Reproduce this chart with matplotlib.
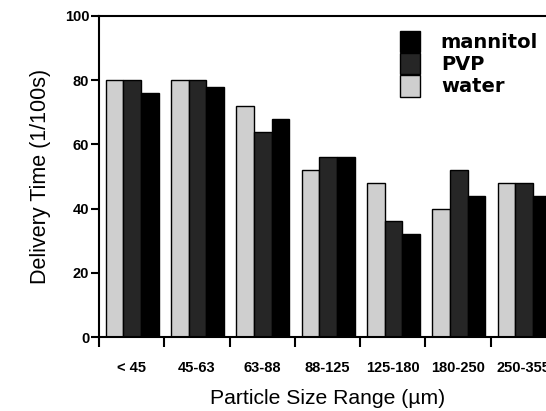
import numpy as np
import matplotlib.pyplot as plt

plt.rcParams["font.family"] = "Liberation Sans"

# data
categories = ["< 45", "45-63", "63-88", "88-125", "125-180", "180-250", "250-355"]
water = [80, 80, 72, 52, 48, 40, 48]
pvp = [80, 80, 64, 56, 36, 52, 48]
mannitol = [76, 78, 68, 56, 32, 44, 44]

fig = plt.figure(figsize=(5.46, 4.11), dpi=100)
# axes runs past the right edge, like the scanned original
ax = fig.add_axes([99 / 546, 1 - 337 / 411, 457 / 546, 321 / 411])

x = np.arange(len(categories))
w = 0.27
b_water = ax.bar(x - 0.26, water, w, color="#cfcfcf", edgecolor="black", lw=1.0)
b_pvp = ax.bar(x + 0.01, pvp, w, color="#262626", edgecolor="black", lw=1.0)
b_man = ax.bar(x + 0.28, mannitol, w, color="black", edgecolor="black", lw=1.0)

ax.set_xlim(-0.5, len(categories) - 0.5)
ax.set_ylim(0, 100)
ax.set_yticks([0, 20, 40, 60, 80, 100])

# tick marks at the group boundaries, labels at the group centres
ax.set_xticks(np.arange(-0.5, len(categories), 1))
ax.set_xticklabels([])
ax.set_xticks(x, minor=True)
ax.set_xticklabels(categories, minor=True, fontsize=10.5, fontweight="bold")
ax.tick_params(axis="x", which="major", length=7, width=1.5, direction="out")
ax.tick_params(axis="x", which="minor", length=0, pad=17)
ax.tick_params(axis="y", length=6, width=1.5, pad=1, labelsize=10.5)
for lab in ax.get_yticklabels():
    lab.set_fontweight("bold")

for s in ["left", "top", "bottom"]:
    ax.spines[s].set_linewidth(1.5)
ax.spines["right"].set_visible(False)

ax.set_xlabel("Particle Size Range (µm)", fontsize=15.2, labelpad=10)
ax.set_ylabel("Delivery Time (1/100s)", fontsize=15.5, labelpad=10)

ax.legend(
    [b_man, b_pvp, b_water],
    ["mannitol", "PVP", "water"],
    loc="upper left",
    bbox_to_anchor=(400 / 546, 1 - 31 / 411),
    bbox_transform=fig.transFigure,
    frameon=False,
    prop={"family": "DejaVu Sans", "weight": "bold", "size": 14},
    handlelength=1.05,
    handleheight=1.3,
    handletextpad=1.05,
    labelspacing=0.05,
    borderpad=0,
    borderaxespad=0,
)

plt.savefig("out.png", dpi=100)
